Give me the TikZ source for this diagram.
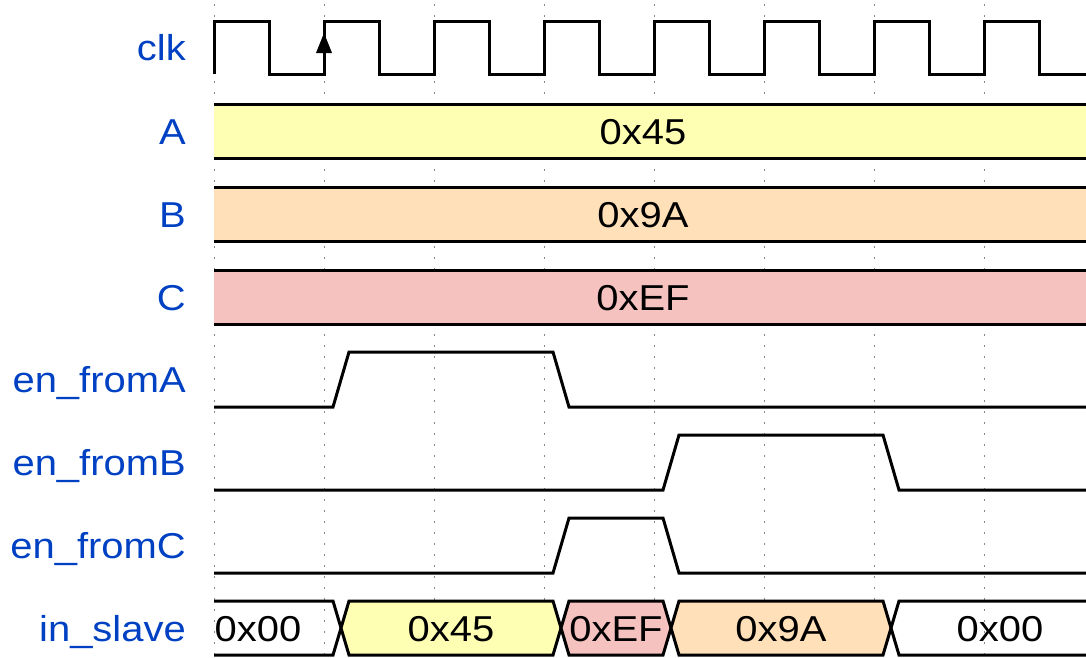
\documentclass[tikz,border=0pt]{standalone}
\usepackage{fontspec}
\setmainfont{Liberation Sans}[FakeStretch=1.11]

\definecolor{sigblue}{HTML}{0041C4}
\definecolor{fillA}{HTML}{FFFFB4}
\definecolor{fillB}{HTML}{FFE0B9}
\definecolor{fillC}{HTML}{F5C2C0}
\definecolor{gridgray}{HTML}{888888}

% one data slot of the in_slave bus: start, end, fill colour
\newcommand{\slaveseg}[3]{%
  \filldraw[wave, fill=#3] (#1,601) -- (#2,601) -- (#2+8,628) -- (#2,655)
    -- (#1,655) -- (#1-8,628) -- cycle;}

\begin{document}
\begin{tikzpicture}[x=1pt, y=-1pt,
  wave/.style={line width=3pt, line join=miter},
  gridline/.style={gridgray, line width=1pt, dash pattern=on 2pt off 9pt, dash phase=-4pt},
  signame/.style={sigblue, anchor=base east, inner sep=0pt, font=\fontsize{36}{40}\selectfont},
  busval/.style={anchor=base, inner sep=0pt, font=\fontsize{36}{40}\selectfont}]
  \useasboundingbox (0,0) rectangle (1086,657);
  \clip (0,0) rectangle (1086,657);

  % clock grid
  \foreach \x in {214,324,...,984}
    \draw[gridline] (\x,0) -- (\x,657);

  % signal names
  \node[signame] (lclk) at (186,60.5) {clk};
  \node[signame] (lA) at (186,144) {A};
  \node[signame] (lB) at (186,227) {B};
  \node[signame] (lC) at (186,310) {C};
  \node[signame] (lenA) at (186,392.5) {en\_fromA};
  \node[signame] (lenB) at (186,475.5) {en\_fromB};
  \node[signame] (lenC) at (186,558.5) {en\_fromC};
  \node[signame] (lslave) at (186,641) {in\_slave};

  % clk
  \draw[wave] (214,74) \foreach \x in {214,324,...,984} {
      -- (\x,21) -- (\x+55,21) -- (\x+55,74) -- (\x+110,74)};
  \fill (316,53) -- (324,33) -- (332,53) -- cycle;

  % A, B, C hold their values the whole time
  \fill[fillA] (214,104) rectangle (1086,158);
  \draw[wave] (214,104) -- (1086,104) (214,158) -- (1086,158);
  \node[busval] (vA) at (643,144) {0x45};

  \fill[fillB] (214,187) rectangle (1086,241);
  \draw[wave] (214,187) -- (1086,187) (214,241) -- (1086,241);
  \node[busval] (vB) at (643,227) {0x9A};

  \fill[fillC] (214,270) rectangle (1086,324);
  \draw[wave] (214,270) -- (1086,270) (214,324) -- (1086,324);
  \node[busval] (vC) at (643,310) {0xEF};

  % enables
  \draw[wave] (214,407) -- (333,407) -- (349,352) -- (553,352) -- (569,407) -- (1086,407);
  \draw[wave] (214,490) -- (663,490) -- (679,435) -- (883,435) -- (899,490) -- (1086,490);
  \draw[wave] (214,573) -- (553,573) -- (569,518) -- (663,518) -- (679,573) -- (1086,573);

  % in_slave
  \draw[wave] (214,601) -- (333,601) -- (341,628) -- (333,655) -- (214,655);
  \slaveseg{349}{553}{fillA}
  \slaveseg{569}{663}{fillC}
  \slaveseg{679}{883}{fillB}
  \draw[wave] (1090,601) -- (899,601) -- (891,628) -- (899,655) -- (1090,655);
  \node[busval] (s0) at (258,641) {0x00};
  \node[busval] (s1) at (451,641) {0x45};
  \node[busval] (s2) at (616,641) {0xEF};
  \node[busval] (s3) at (781,641) {0x9A};
  \node[busval] (s4) at (1000,641) {0x00};
\end{tikzpicture}
\end{document}
